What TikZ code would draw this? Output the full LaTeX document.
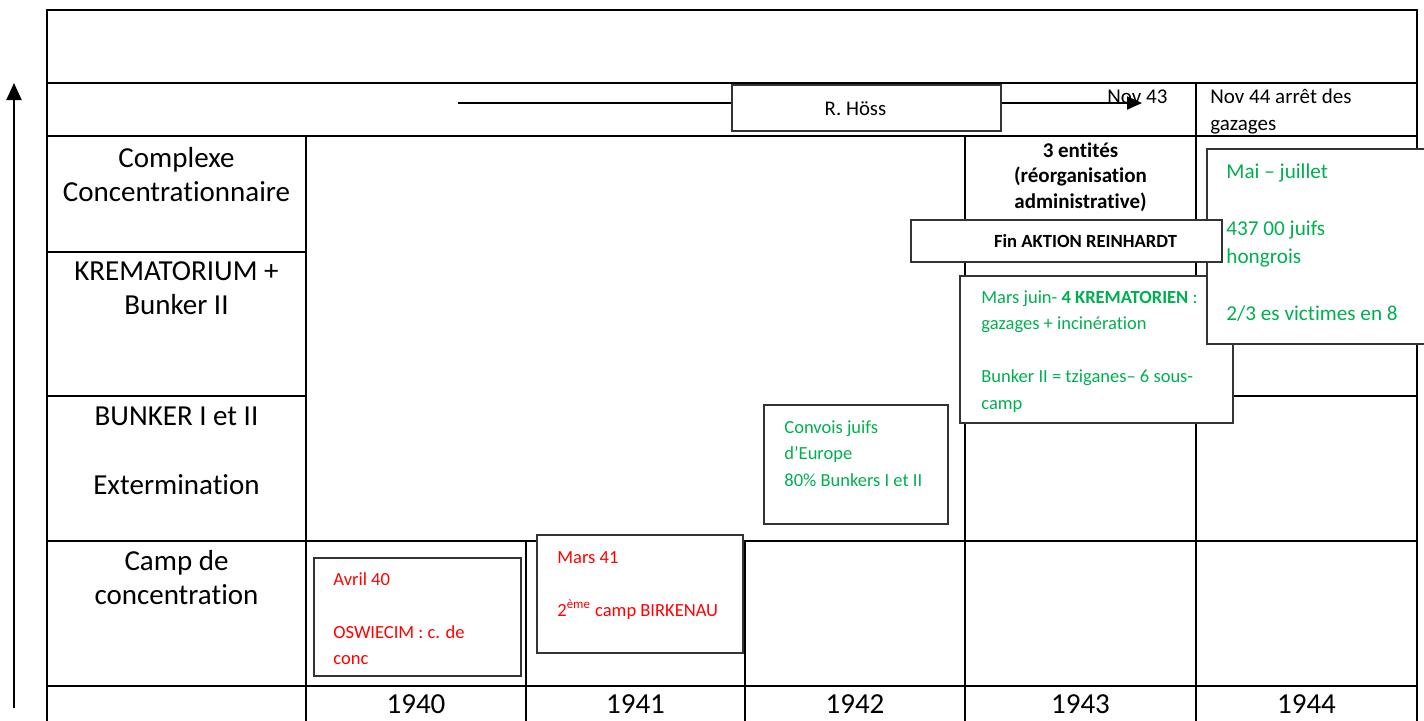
\documentclass[tikz,border=0pt]{standalone}
\usepackage{fontspec}
\setmainfont{Carlito}[Ligatures=NoCommon]
\usetikzlibrary{arrows.meta}
\definecolor{wgreen}{RGB}{0,176,80}
\definecolor{wred}{RGB}{255,0,0}
\newcommand{\lblfont}{\fontsize{14.5pt}{17.25pt}\selectfont}
\newcommand{\smfont}{\fontsize{9.25pt}{13.25pt}\selectfont}
\newcommand{\maifont}{\fontsize{10.6pt}{14.25pt}\selectfont}
\newcommand{\midfont}{\fontsize{10.5pt}{13.5pt}\selectfont}
\newcommand{\entfont}{\fontsize{10.5pt}{12.75pt}\selectfont\bfseries}
\begin{document}
\begin{tikzpicture}[x=0.5pt,y=-0.5pt,
  grid/.style={line width=1.3pt,line cap=rect},
  box/.style={draw=black!80,line width=1.05pt,fill=white,inner sep=0pt,anchor=north west},
  txt/.style={inner sep=0pt,anchor=base west,align=flush left},
  lbl/.style={inner sep=0pt,anchor=base,text width=125pt,align=flush center,font=\lblfont},
  year/.style={inner sep=0pt,anchor=base,font=\lblfont},
  arr/.style={line width=1pt}
]
\useasboundingbox (0,0) rectangle (1424,720);
% ---- table grid ----
\draw[grid] (47,10) rectangle (1417,730);
\draw[grid] (47,83) -- (1417,83);
\draw[grid] (47,136) -- (1417,136);
\draw[grid] (47,252) -- (306,252);
\draw[grid] (47,396) -- (306,396);
\draw[grid] (965,396) -- (1417,396);
\draw[grid] (47,541) -- (1417,541);
\draw[grid] (47,686) -- (1417,686);
\draw[grid] (306,136) -- (306,730);
\draw[grid] (526,541) -- (526,730);
\draw[grid] (745,541) -- (745,730);
\draw[grid] (965,136) -- (965,730);
\draw[grid] (1196,83) -- (1196,730);
% ---- left labels ----
\node[lbl] (lcomplexe) at (176.5,167) {Complexe\\Concentrationnaire};
\node[lbl] (lkrema) at (176.5,280) {KREMATORIUM +\\Bunker II};
\node[lbl] (lbunker) at (176.5,425) {BUNKER I et II\\\mbox{}\\Extermination};
\node[lbl] (lcamp) at (176.5,570) {Camp de\\concentration};
% ---- years ----
\node[year] (y40) at (416,713) {1940};
\node[year] (y41) at (635.5,713) {1941};
\node[year] (y42) at (855,713) {1942};
\node[year] (y43) at (1080.5,713) {1943};
\node[year] (y44) at (1306.5,713) {1944};
% ---- boxes ----
\node[box,minimum width=103.5pt,minimum height=59pt] (avril) at (313,557) {};
\node[txt,text width=100pt,font=\smfont,text=wred] (tavril) at (333,585) {Avril 40\\\mbox{}\\OSWIECIM : c. de\\conc};
\node[box,minimum width=103pt,minimum height=59pt] (mars41) at (536,534) {};
\node[txt,text width=100pt,font=\smfont,text=wred] (tmars41) at (557,563) {Mars 41\\\mbox{}\\2\textsuperscript{ème} camp BIRKENAU};
\node[box,minimum width=92pt,minimum height=59.5pt] (convois) at (763,404) {};
\node[txt,text width=90pt,font=\smfont,text=wgreen] (tconvois) at (784,433) {Convois juifs\\d’Europe\\80\% Bunkers I et II};
\node[box,minimum width=136.5pt,minimum height=73.5pt] (marsjuin) at (959,275) {};
\node[txt,text width=130pt,font=\smfont,text=wgreen] (tmarsjuin) at (981,303) {Mars juin- \textbf{4 KREMATORIEN} :\\gazages + incinération\\\mbox{}\\Bunker II = tziganes– 6 sous-\\camp};
\node[box,minimum width=115pt,minimum height=97.5pt] (mai) at (1206,148) {};
\node[txt,text width=110pt,font=\maifont,text=wgreen] (tmai) at (1226,178) {Mai – juillet\\\mbox{}\\437 00 juifs\\hongrois\\\mbox{}\\2/3 es victimes en 8};
\node[inner sep=0pt,anchor=base,text width=110pt,align=flush center,font=\entfont] (tentites) at (1080.5,157) {3 entités\\(réorganisation\\administrative)};
\node[box,minimum width=155.5pt,minimum height=21pt] (fin) at (910,219) {};
\node[inner sep=0pt,anchor=base,font=\fontsize{9.3pt}{11pt}\selectfont\bfseries] (tfin) at (1085.5,247) {Fin AKTION REINHARDT};
% ---- header row ----
\node[txt,text width=100pt,font=\midfont] (tnov44) at (1210,103) {Nov 44 arrêt des\\gazages};
\node[inner sep=0pt,anchor=base west,font=\midfont] (tnov43) at (1107,103) {Nov 43};
\node[box,minimum width=134.5pt,minimum height=23pt] (hoss) at (731,84) {};
\node[inner sep=0pt,anchor=base,font=\fontsize{10.4pt}{12pt}\selectfont] (thoss) at (855.5,115) {R. Höss};
\coordinate (hstart) at (458,103);
\coordinate (hend) at (1142,103);
\draw[arr] (hstart) -- (hstart -| hoss.west);
\draw[arr,-{Triangle[width=6.5pt,length=7.5pt]}] (hstart -| hoss.east) -- (hend);
% ---- vertical arrow ----
\coordinate (vbot) at (14,708);
\coordinate (vtop) at (14,83);
\draw[arr,-{Triangle[width=7.5pt,length=8.5pt]}] (vbot) -- (vtop);
\end{tikzpicture}
\end{document}
